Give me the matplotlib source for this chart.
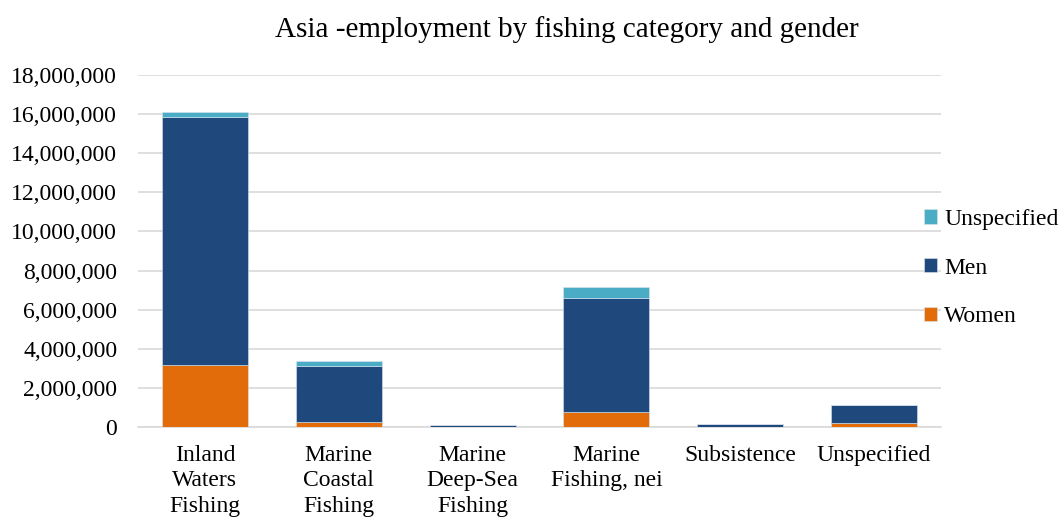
import numpy as np
import matplotlib.pyplot as plt
from matplotlib.ticker import FuncFormatter

categories = ["Inland\nWaters\nFishing", "Marine\nCoastal\nFishing", "Marine\nDeep-Sea\nFishing",
              "Marine\nFishing, nei", "Subsistence", "Unspecified"]
women = [3170000, 250000, 10000, 780000, 20000, 200000]
men = [12680000, 2870000, 90000, 5820000, 130000, 900000]
unspecified = [250000, 250000, 10000, 550000, 10000, 10000]

plt.rcParams['font.family'] = ['Liberation Serif', 'DejaVu Serif']

fig = plt.figure(figsize=(10.6, 5.2), dpi=100)
# axes box in pixels: x 138..941, y 75..427
ax = fig.add_axes([138 / 1060, 1 - 427 / 520, 803 / 1060, 352 / 520])

x = np.arange(len(categories))
w = 0.643
women_a = np.array(women)
men_a = np.array(men)
b1 = ax.bar(x, women_a, w, color='#E36C0A', edgecolor='#DCE6F0', linewidth=0.4, label='Women', zorder=3)
b2 = ax.bar(x, men_a, w, bottom=women_a, color='#1F497D', edgecolor='#DCE6F0', linewidth=0.4, label='Men', zorder=3)
b3 = ax.bar(x, unspecified, w, bottom=women_a + men_a, color='#4BACC6', edgecolor='#DCE6F0', linewidth=0.4,
            label='Unspecified', zorder=3)

ax.set_ylim(0, 18000000)
ax.set_xlim(-0.5, len(categories) - 0.5)
ax.set_yticks(np.arange(0, 18000001, 2000000))
ax.yaxis.set_major_formatter(FuncFormatter(lambda v, p: f"{int(v):,}"))
ax.set_xticks(x)
ax.set_xticklabels(categories, fontsize=17, linespacing=1.27)
ax.tick_params(axis='y', labelsize=17, length=0, pad=15)
ax.tick_params(axis='x', length=0, pad=13)
ax.grid(axis='y', color='#D9D9D9', linewidth=1.2, zorder=0)
for s in ['top', 'right', 'left']:
    ax.spines[s].set_visible(False)
ax.spines['bottom'].set_color('#D9D9D9')
ax.spines['bottom'].set_linewidth(1.2)

fig.text(567 / 1060, 1 - 30 / 520, "Asia -employment by fishing category and gender",
         fontsize=21, ha='center', va='center')

handles = [b3, b2, b1]
fig.legend(handles, ['Unspecified', 'Men', 'Women'], loc='center left',
           bbox_to_anchor=(924 / 1060, 1 - 268 / 520), frameon=False, fontsize=17,
           borderpad=0, borderaxespad=0,
           handlelength=0.55, handleheight=0.55, labelspacing=1.17, handletextpad=0.3)

plt.savefig("out.png", dpi=100)
